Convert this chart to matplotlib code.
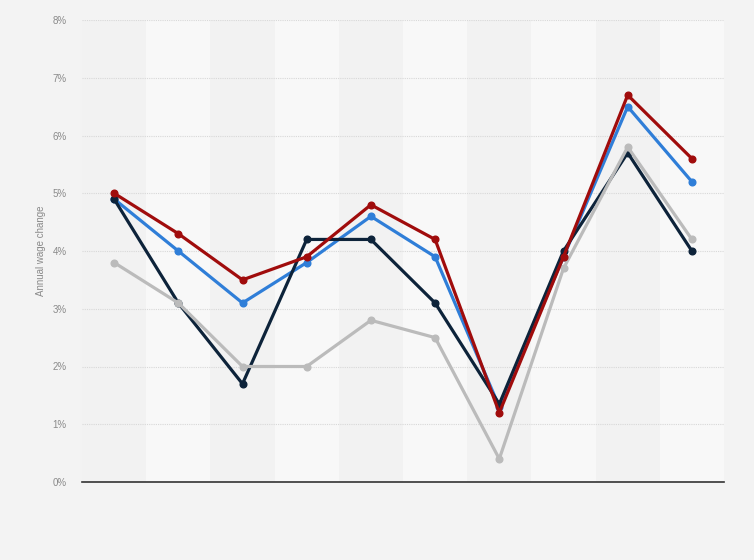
import matplotlib
matplotlib.use("Agg")
import matplotlib.pyplot as plt
from matplotlib.ticker import FuncFormatter

plt.rcParams["font.family"] = ["Liberation Sans", "DejaVu Sans"]

# categories (no labels shown in reference)
positions = list(range(10))

navy_vals = [4.9, 3.1, 1.7, 4.2, 4.2, 3.1, 1.35, 4.0, 5.7, 4.0]
blue_vals = [4.9, 4.0, 3.1, 3.8, 4.6, 3.9, 1.3, 3.9, 6.5, 5.2]
red_vals = [5.0, 4.3, 3.5, 3.9, 4.8, 4.2, 1.2, 3.9, 6.7, 5.6]
gray_vals = [3.8, 3.1, 2.0, 2.0, 2.8, 2.5, 0.4, 3.7, 5.8, 4.2]

y_ticks = [0, 1, 2, 3, 4, 5, 6, 7, 8]

fig = plt.figure(figsize=(7.54, 5.6), dpi=100)
fig.patch.set_facecolor("#f3f3f3")
ax = fig.add_axes([82 / 754, 78 / 560, 642 / 754, 462 / 560])
ax.set_facecolor("#f3f3f3")

# alternating column bands
for i in positions:
    ax.axvspan(i - 0.5, i + 0.5, color="#f2f2f2" if i % 2 == 0 else "#f8f8f8", zorder=0, lw=0)

ax.set_xlim(-0.5, 9.5)
ax.set_ylim(0, 8)
ax.set_yticks(y_ticks)
ax.yaxis.set_major_formatter(FuncFormatter(lambda v, p: f"{int(v)}%"))
ax.grid(axis="y", color="#d8d8d8", linestyle=(0, (1, 1)), linewidth=0.8, zorder=1)
ax.set_xticks([])

for s in ["top", "right", "left"]:
    ax.spines[s].set_visible(False)
ax.spines["bottom"].set_color("#333333")
ax.spines["bottom"].set_linewidth(1.2)
ax.tick_params(axis="y", length=0, labelsize=7, labelcolor="#8a8a8a", pad=11)

ax.set_ylabel("Annual wage change", fontsize=7, color="#8a8a8a", labelpad=5)

style = dict(linewidth=2.3, marker="o", markersize=4.8)
ax.plot(positions, blue_vals, color="#2f7ed8", zorder=3, **style)
ax.plot(positions, navy_vals, color="#0d233a", zorder=4, **style)
ax.plot(positions, gray_vals, color="#bbbbbb", zorder=5, **style)
ax.plot(positions, red_vals, color="#a00c0c", zorder=6, **style)

fig.savefig("out.png", dpi=100, facecolor=fig.get_facecolor())
